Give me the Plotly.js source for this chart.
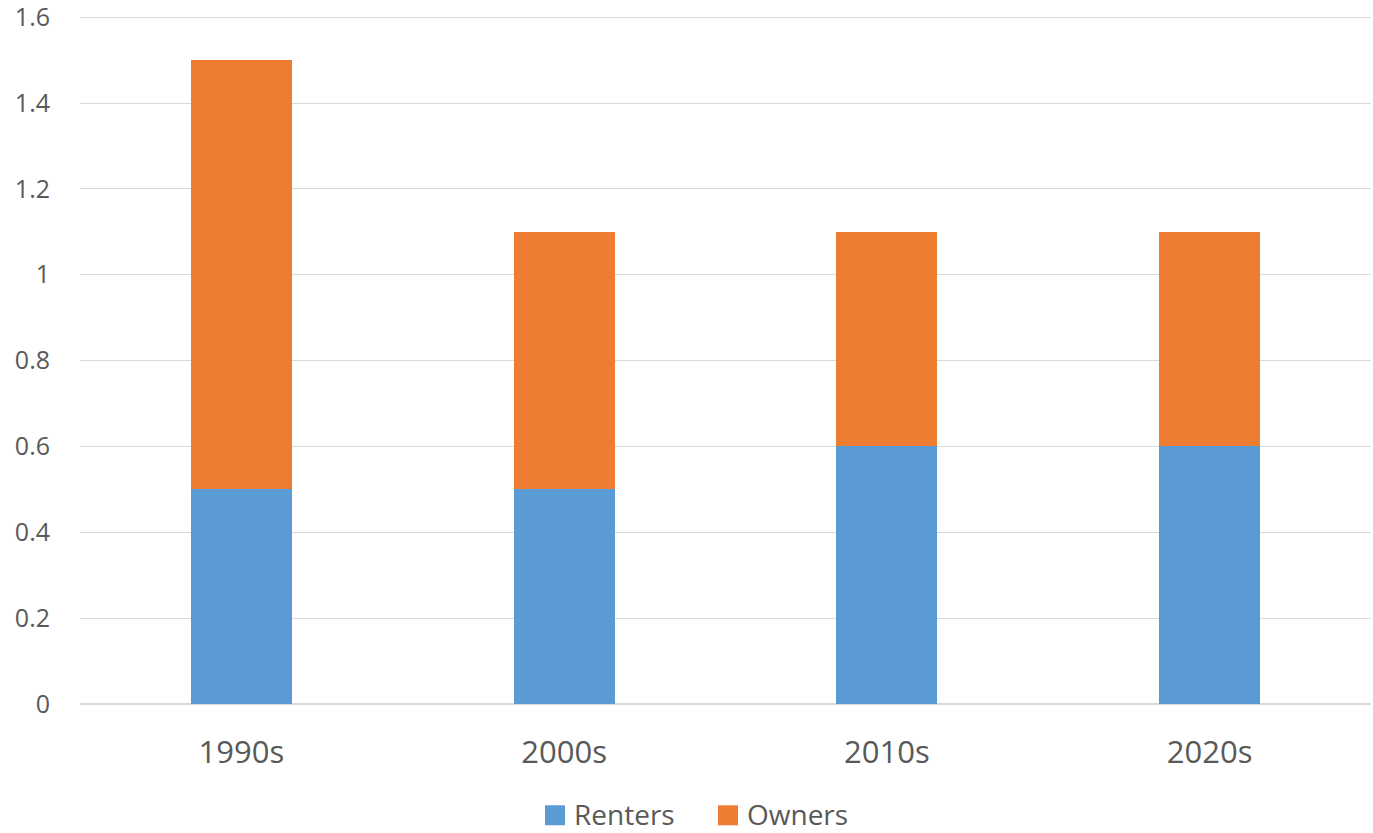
<!DOCTYPE html>
<html>
<head>
<meta charset="utf-8">
<script src="https://cdn.plot.ly/plotly-3.0.1.min.js"></script>
<style>
  html, body { margin: 0; padding: 0; background: #ffffff; }
  #chart { width: 1373px; height: 833px; }
</style>
</head>
<body>
<div id="chart"></div>
<script>
// Decades on the category axis
const decades = ['1990s', '2000s', '2010s', '2020s'];
// Stacked series values
const renters = [0.5, 0.5, 0.6, 0.6];
const owners = [1.0, 0.6, 0.5, 0.5];
// Series names and colours
const seriesNames = ['Renters', 'Owners'];
const seriesColors = ['#5b9bd5', '#ed7d31'];
// Value axis ticks
const yTicks = [0, 0.2, 0.4, 0.6, 0.8, 1, 1.2, 1.4, 1.6];
const yTickText = ['0', '0.2', '0.4', '0.6', '0.8', '1', '1.2', '1.4', '1.6'];

const textColor = '#595959';
const gridColor = '#d9d9d9';
const fontFamily = '"Open Sans", "Noto Sans", sans-serif';

const traces = [renters, owners].map((vals, i) => ({
  type: 'bar',
  name: seriesNames[i],
  x: decades,
  y: vals,
  marker: { color: seriesColors[i] },
  hoverinfo: 'x+y+name'
}));

// Legend drawn below the plot: a square swatch and a label per series
const legendSlots = [
  { sx0: 0.3602, sx1: 0.3757, tx: 0.3811 },
  { sx0: 0.4942, sx1: 0.5097, tx: 0.5151 }
];
const legendShapes = legendSlots.map((s, i) => ({
  type: 'rect',
  xref: 'paper', yref: 'paper',
  x0: s.sx0, x1: s.sx1,
  y0: -0.147, y1: -0.176,
  fillcolor: seriesColors[i],
  line: { width: 0 }
}));
const legendLabels = legendSlots.map((s, i) => ({
  xref: 'paper', yref: 'paper',
  x: s.tx, y: -0.159,
  xanchor: 'left', yanchor: 'middle',
  text: seriesNames[i],
  showarrow: false,
  font: { size: 28, color: textColor, family: fontFamily }
}));

const layout = {
  width: 1373,
  height: 833,
  barmode: 'stack',
  bargap: 0.687,
  paper_bgcolor: '#ffffff',
  plot_bgcolor: '#ffffff',
  margin: { l: 80, r: 2, t: 15, b: 129, pad: 0, autoexpand: false },
  font: { family: fontFamily, color: textColor },
  showlegend: false,
  shapes: legendShapes,
  annotations: legendLabels,
  xaxis: {
    type: 'category',
    tickfont: { size: 31, color: textColor, family: fontFamily },
    showgrid: false,
    showline: false,
    zeroline: false,
    ticks: '',
    ticklabelstandoff: 27,
    fixedrange: true
  },
  yaxis: {
    range: [0, 1.605],
    tickmode: 'array',
    tickvals: yTicks,
    ticktext: yTickText,
    ticklabeloverflow: 'allow',
    tickfont: { size: 25, color: textColor, family: fontFamily },
    showgrid: true,
    gridcolor: gridColor,
    gridwidth: 1.3,
    zeroline: true,
    zerolinecolor: gridColor,
    zerolinewidth: 2,
    showline: false,
    ticks: '',
    ticklabelstandoff: 29,
    fixedrange: true
  }
};

Plotly.newPlot('chart', traces, layout, { displayModeBar: false });
</script>
</body>
</html>
